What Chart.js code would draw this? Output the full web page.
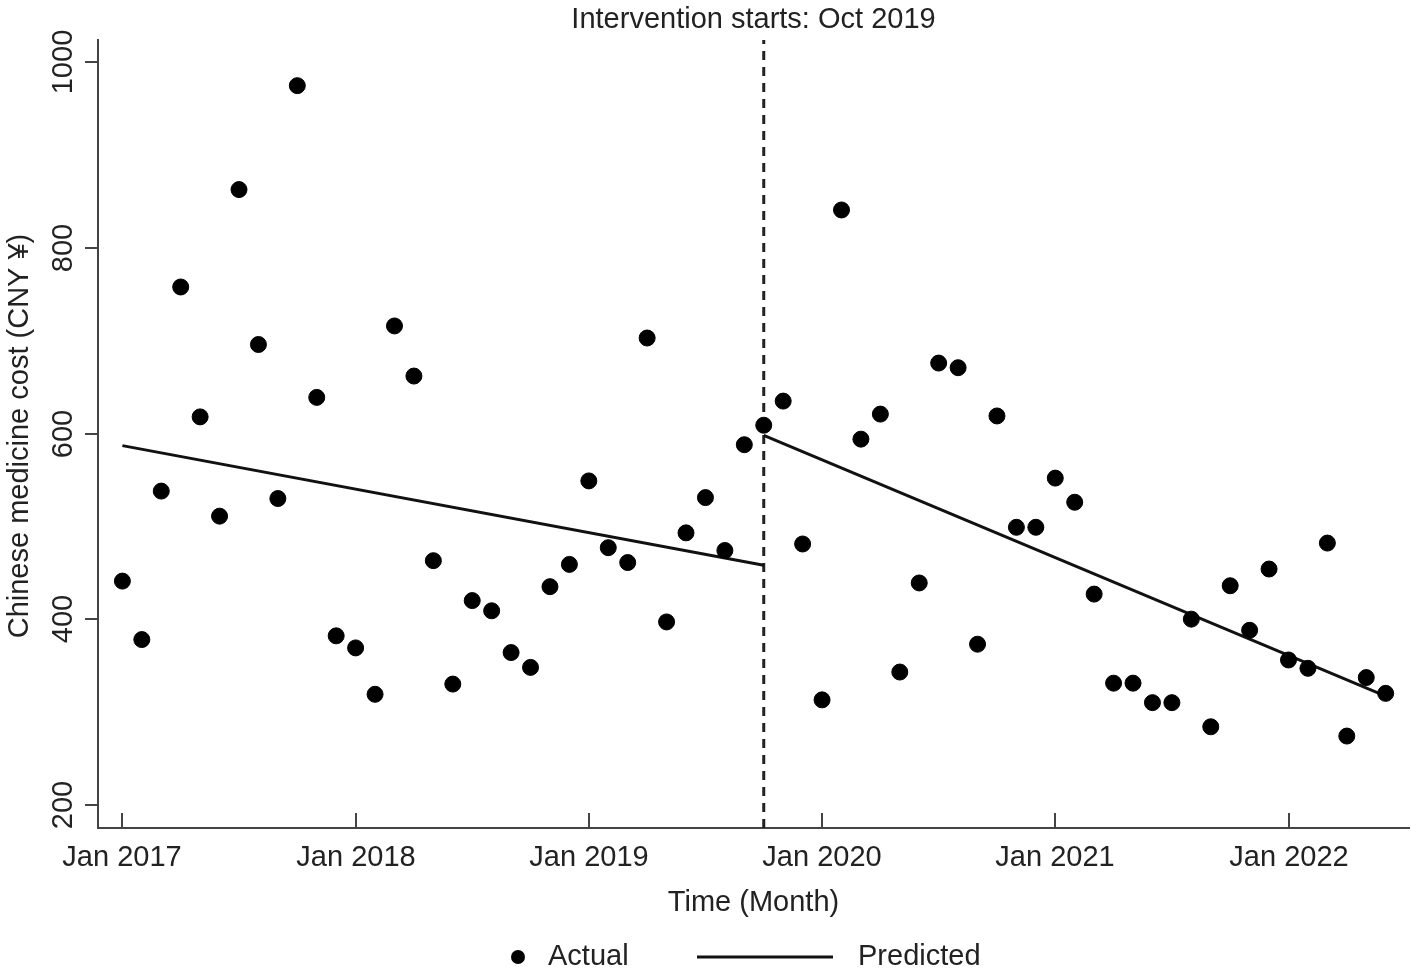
<!DOCTYPE html>
<html>
<head>
<meta charset="utf-8">
<title>Chinese medicine cost - interrupted time series</title>
<script src="https://cdn.jsdelivr.net/npm/chart.js@4.4.1/dist/chart.umd.min.js"></script>
<style>
  html, body { margin: 0; padding: 0; background: #fff; }
</style>
</head>
<body>
<canvas id="itsChart" width="1418" height="975"></canvas>
<script>
// month index, 0 = Jan 2017 ... 65 = Jun 2022
var months = [
   0,  1,  2,  3,  4,  5,  6,  7,  8,  9, 10, 11,
  12, 13, 14, 15, 16, 17, 18, 19, 20, 21, 22, 23,
  24, 25, 26, 27, 28, 29, 30, 31, 32, 33, 34, 35,
  36, 37, 38, 39, 40, 41, 42, 43, 44, 45, 46, 47,
  48, 49, 50, 51, 52, 53, 54, 55, 56, 57, 58, 59,
  60, 61, 62, 63, 64, 65
];

// actual monthly cost (CNY)
var actualCost = [
  441, 378, 538, 758, 618, 511, 863, 696, 530, 975, 639, 382,   // 2017
  369, 319, 716, 662, 463, 330, 420, 409, 364, 348, 435, 459,   // 2018
  549, 477, 461, 703, 397, 493, 531, 474, 588, 609, 635, 481,   // 2019
  313, 841, 594, 621, 343, 439, 676, 671, 373, 619, 499, 499,   // 2020
  552, 526, 427, 331, 331, 310, 310, 400, 284, 436, 388, 454,   // 2021
  356, 347, 482, 274, 337, 320                                  // 2022
];

// predicted (segmented regression) line, break at the intervention
var predMonths = [0, 33, 33, 33, 65];
var predCost   = [587, 458, null, 598, 317];

var interventionMonth = 33;
var interventionLabel = 'Intervention starts: Oct 2019';

var xTickMonths = [0, 12, 24, 36, 48, 60];
var xTickLabels = ['Jan 2017', 'Jan 2018', 'Jan 2019', 'Jan 2020', 'Jan 2021', 'Jan 2022'];
var yTicks = [200, 400, 600, 800, 1000];

var xMin = -1.255, xMax = 66.2;
var yMin = 174.9, yMax = 1024.2;

var textColor = '#222';
var axisColor = '#444';
var fontFamily = '"Liberation Sans", Arial, sans-serif';

// ticks, labels, titles and legend drawn in Stata style
var itsDecor = {
  id: 'itsDecor',
  afterDraw: function(chart) {
    var ctx = chart.ctx;
    var xs = chart.scales.x, ys = chart.scales.y;
    var area = chart.chartArea;

    ctx.save();
    ctx.strokeStyle = axisColor;
    ctx.lineWidth = 2;
    ctx.fillStyle = textColor;
    ctx.font = '29px ' + fontFamily;

    // x ticks (pointing into the plot) + labels
    ctx.textAlign = 'center';
    ctx.textBaseline = 'alphabetic';
    xTickMonths.forEach(function(m, i) {
      var px = Math.round(xs.getPixelForValue(m));
      ctx.beginPath();
      ctx.moveTo(px, area.bottom);
      ctx.lineTo(px, area.bottom - 15);
      ctx.stroke();
      ctx.fillText(xTickLabels[i], px, area.bottom + 38);
    });

    // y ticks (outside) + rotated labels
    yTicks.forEach(function(v) {
      var py = Math.round(ys.getPixelForValue(v));
      ctx.beginPath();
      ctx.moveTo(area.left, py);
      ctx.lineTo(area.left - 13, py);
      ctx.stroke();
      ctx.save();
      ctx.translate(area.left - 26, py);
      ctx.rotate(-Math.PI / 2);
      ctx.textAlign = 'center';
      ctx.fillText(String(v), 0, 0);
      ctx.restore();
    });

    // axis titles
    ctx.fillText('Time (Month)', (area.left + area.right) / 2, area.bottom + 83);
    ctx.save();
    ctx.translate(28, 436);
    ctx.rotate(-Math.PI / 2);
    ctx.textAlign = 'center';
    ctx.fillText('Chinese medicine cost (CNY \u00a5)', 0, 0);
    ctx.restore();

    // intervention label above the dashed line
    ctx.fillText(interventionLabel, (area.left + area.right) / 2, 28);

    // legend
    var ly = 957;
    var actual = chart.data.datasets[0], pred = chart.data.datasets[1];
    ctx.fillStyle = actual.backgroundColor;
    ctx.beginPath();
    ctx.arc(518, ly, 7, 0, Math.PI * 2);
    ctx.fill();
    ctx.strokeStyle = pred.borderColor;
    ctx.lineWidth = pred.borderWidth;
    ctx.beginPath();
    ctx.moveTo(697, ly);
    ctx.lineTo(833, ly);
    ctx.stroke();
    ctx.fillStyle = textColor;
    ctx.textAlign = 'left';
    ctx.textBaseline = 'middle';
    ctx.fillText(actual.label, 548, ly);
    ctx.fillText(pred.label, 858, ly);

    ctx.restore();
  }
};

var ctx = document.getElementById('itsChart').getContext('2d');
var chart = new Chart(ctx, {
  type: 'scatter',
  data: {
    datasets: [
      {
        label: 'Actual',
        data: months.map(function(m, i) { return { x: m, y: actualCost[i] }; }),
        backgroundColor: '#000',
        borderColor: '#000',
        pointRadius: 8,
        pointHoverRadius: 8,
        order: 1
      },
      {
        label: 'Predicted',
        type: 'line',
        data: predMonths.map(function(m, i) { return { x: m, y: predCost[i] }; }),
        borderColor: '#111',
        borderWidth: 3,
        pointRadius: 0,
        fill: false,
        spanGaps: false,
        tension: 0,
        order: 2
      },
      {
        label: 'Intervention',
        type: 'line',
        data: [{ x: interventionMonth, y: yMin }, { x: interventionMonth, y: yMax }],
        borderColor: '#222',
        borderWidth: 3,
        borderDash: [9, 7],
        pointRadius: 0,
        fill: false,
        order: 3
      }
    ]
  },
  options: {
    responsive: false,
    animation: false,
    layout: { padding: { left: 98, right: 8, top: 40, bottom: 147 } },
    plugins: {
      legend: { display: false },
      tooltip: { enabled: false }
    },
    scales: {
      x: {
        type: 'linear',
        min: xMin,
        max: xMax,
        grid: { display: false, drawTicks: false },
        border: { display: true, color: axisColor, width: 2 },
        ticks: { display: false }
      },
      y: {
        type: 'linear',
        min: yMin,
        max: yMax,
        grid: { display: false, drawTicks: false },
        border: { display: true, color: axisColor, width: 2 },
        ticks: { display: false }
      }
    }
  },
  plugins: [itsDecor]
});
</script>
</body>
</html>
